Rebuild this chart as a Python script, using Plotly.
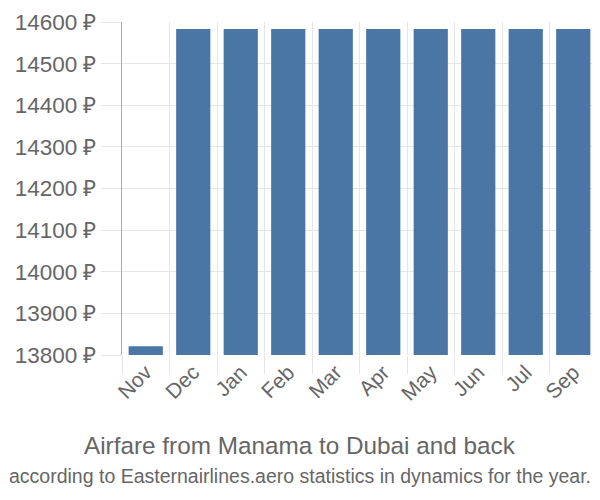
import plotly.graph_objects as go

months = ["Nov", "Dec", "Jan", "Feb", "Mar", "Apr", "May", "Jun", "Jul", "Sep"]
prices = [13821, 14583, 14583, 14583, 14583, 14583, 14583, 14583, 14583, 14583]

fig = go.Figure(go.Bar(x=months, y=prices, marker=dict(color="#4a76a5", line=dict(width=0))))

# page body has an 8px margin, so the figure is a bit smaller than the window
fig.update_layout(
    width=592, height=492,
    margin=dict(l=114, r=3, t=14, b=145),
    plot_bgcolor="white", paper_bgcolor="white",
    font=dict(family="Liberation Sans", color="#666666"),
    bargap=0.28,
    showlegend=False,
    xaxis=dict(
        type="category", tickson="boundaries", showgrid=True, gridcolor="#e6e6e6",
        ticks="outside", ticklen=18, tickcolor="#e6e6e6", tickangle=-45,
        tickfont=dict(size=21, color="#666666"), automargin=False,
    ),
    yaxis=dict(
        range=[13800, 14600], dtick=100, tickformat="d", showgrid=True, gridcolor="#e6e6e6",
        ticks="outside", ticklen=20, tickcolor="#e6e6e6", ticksuffix=" ₽",
        tickfont=dict(size=22.5, color="#666666"), automargin=False,
        ticklabeloverflow="allow",
        showline=True, linecolor="#aaaaaa", linewidth=1, zeroline=False,
    ),
    annotations=[
        dict(text="Airfare from Manama to Dubai and back", xref="paper", yref="paper",
             x=0.375, y=-0.273, xanchor="center", yanchor="middle", showarrow=False,
             font=dict(size=24.3, color="#666666")),
        dict(text="according to Easternairlines.aero statistics in dynamics for the year.",
             xref="paper", yref="paper", x=0.375, y=-0.363, xanchor="center", yanchor="middle",
             showarrow=False, font=dict(size=19.5, color="#666666")),
    ],
)

fig.write_html("out.html")
